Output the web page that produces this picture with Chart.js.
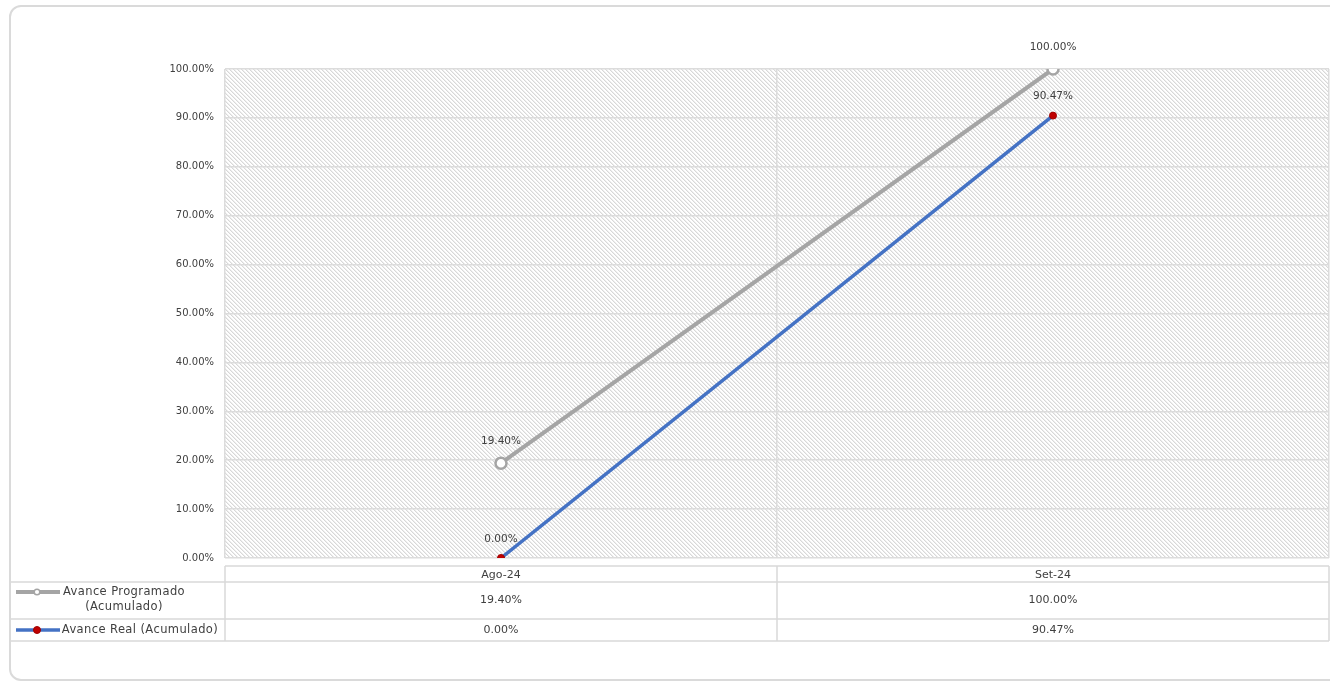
<!DOCTYPE html>
<html>
<head>
<meta charset="utf-8">
<script src="https://cdn.jsdelivr.net/npm/chart.js@4.4.1/dist/chart.umd.min.js"></script>
<style>
html,body{margin:0;padding:0;background:#fff;overflow:hidden;}
#wrap{position:relative;width:1330px;height:682px;}
#frame{position:absolute;left:9px;top:5px;width:1350px;height:676px;border:2px solid #dadada;border-radius:12px;box-sizing:border-box;}
canvas{position:absolute;left:0;top:0;}
</style>
</head>
<body>
<div id="wrap">
<div id="frame"></div>
<canvas id="c" width="1330" height="682"></canvas>
</div>
<script>
const categories = ['Ago-24', 'Set-24'];
const programado = [0.194, 1.0];
const real = [0.0, 0.9047];
const seriesNames = ['Avance Programado (Acumulado)', 'Avance Real (Acumulado)'];
const seriesTableLabels = [['Avance Programado', '(Acumulado)'], ['Avance Real (Acumulado)']];

const FONT = '"DejaVu Sans", sans-serif';
const TXT = '#404040';
const GRID = '#dcdcdc';
const fmt = v => (v * 100).toFixed(2) + '%';

function makeHatch() {
  const t = document.createElement('canvas');
  t.width = 4; t.height = 4;
  const g = t.getContext('2d');
  g.fillStyle = '#ffffff'; g.fillRect(0, 0, 4, 4);
  for (let y = 0; y < 4; y++) {
    g.fillStyle = '#d8d8d8'; g.fillRect(y, y, 1, 1);
    g.fillStyle = '#eeeeee'; g.fillRect((y + 1) % 4, y, 1, 1);
  }
  return t;
}

const hatchPlugin = {
  id: 'hatch',
  beforeDraw(chart) {
    const a = chart.chartArea, ctx = chart.ctx;
    ctx.save();
    ctx.fillStyle = ctx.createPattern(makeHatch(), 'repeat');
    ctx.fillRect(a.left, a.top, a.right - a.left, a.bottom - a.top);
    ctx.restore();
  }
};

const labelOffsets = [22, 19];
const labelPlugin = {
  id: 'dlabels',
  afterDatasetsDraw(chart) {
    const ctx = chart.ctx;
    ctx.save();
    ctx.font = '10.5px ' + FONT;
    ctx.fillStyle = TXT;
    ctx.textAlign = 'center';
    ctx.textBaseline = 'middle';
    chart.data.datasets.forEach((ds, di) => {
      chart.getDatasetMeta(di).data.forEach((pt, i) => {
        ctx.fillText(fmt(ds.data[i]), pt.x, pt.y - labelOffsets[di]);
      });
    });
    ctx.restore();
  }
};

const tablePlugin = {
  id: 'dtable',
  afterDraw(chart) {
    const ctx = chart.ctx, a = chart.chartArea, xs = chart.scales.x;
    const n = categories.length;
    const colW = (a.right - a.left) / n;
    const yH = a.bottom + 8, yR1 = a.bottom + 24, yR2 = a.bottom + 61, yEnd = a.bottom + 83;
    const xL = 11;
    ctx.save();
    ctx.strokeStyle = '#d9d9d9';
    ctx.lineWidth = 1.5;
    const line = (x1, y1, x2, y2) => { ctx.beginPath(); ctx.moveTo(x1, y1); ctx.lineTo(x2, y2); ctx.stroke(); };
    line(a.left, yH, a.right, yH);
    line(xL, yR1, a.right, yR1);
    line(xL, yR2, a.right, yR2);
    line(xL, yEnd, a.right, yEnd);
    for (let i = 0; i <= n; i++) line(a.left + colW * i, yH, a.left + colW * i, yEnd);
    ctx.font = '11px ' + FONT;
    ctx.fillStyle = TXT;
    ctx.textAlign = 'center';
    ctx.textBaseline = 'middle';
    categories.forEach((c, i) => {
      const x = xs.getPixelForValue(i);
      ctx.fillText(c, x, (yH + yR1) / 2 + 1);
      ctx.fillText(fmt(programado[i]), x, (yR1 + yR2) / 2);
      ctx.fillText(fmt(real[i]), x, (yR2 + yEnd) / 2);
    });
    // legend keys
    const ds = chart.data.datasets;
    const rows = [[yR1 + 10, yR1 + 25], [(yR2 + yEnd) / 2]];
    const textCx = [124, 140];
    ds.forEach((d, di) => {
      const ky = rows[di][0];
      ctx.strokeStyle = d.borderColor;
      ctx.lineWidth = d.borderWidth;
      line(16, ky, 60, ky);
      ctx.beginPath();
      ctx.arc(37, ky, di === 0 ? 2.8 : 3.5, 0, Math.PI * 2);
      ctx.fillStyle = d.pointBackgroundColor;
      ctx.fill();
      ctx.lineWidth = di === 0 ? 1.5 : 1;
      ctx.strokeStyle = d.pointBorderColor;
      ctx.stroke();
      ctx.fillStyle = TXT;
      ctx.font = '11.5px ' + FONT;
      ctx.letterSpacing = '0.4px';
      seriesTableLabels[di].forEach((t, k) => ctx.fillText(t, textCx[di], rows[di][k]));
      ctx.letterSpacing = '0px';
    });
    ctx.restore();
  }
};

new Chart(document.getElementById('c'), {
  type: 'line',
  data: {
    labels: categories,
    datasets: [
      { label: seriesNames[0], data: programado, borderColor: '#a5a5a5', borderWidth: 4,
        pointRadius: 5.5, pointBackgroundColor: '#ffffff', pointBorderColor: '#a5a5a5', pointBorderWidth: 2.5, tension: 0 },
      { label: seriesNames[1], data: real, borderColor: '#4472c4', borderWidth: 3.5,
        pointRadius: 3.5, pointBackgroundColor: '#c00000', pointBorderColor: '#a00000', pointBorderWidth: 1, tension: 0 }
    ]
  },
  options: {
    responsive: false,
    devicePixelRatio: 1,
    animation: false,
    events: [],
    layout: { autoPadding: false, padding: { left: 0, top: 69, right: 1, bottom: 124 } },
    plugins: { legend: { display: false }, tooltip: { enabled: false } },
    scales: {
      x: {
        type: 'category', offset: true,
        grid: { offset: true, color: GRID, lineWidth: 1.5, drawTicks: false },
        border: { display: false },
        ticks: { display: false },
        afterFit(s) { s.height = 0; }
      },
      y: {
        min: 0, max: 1,
        ticks: { stepSize: 0.1, callback: v => fmt(v), font: { family: FONT, size: 10 }, color: TXT, padding: 11 },
        grid: { color: GRID, lineWidth: 1.5, drawTicks: false },
        border: { display: false },
        afterFit(s) { s.width = 225; }
      }
    }
  },
  plugins: [hatchPlugin, labelPlugin, tablePlugin]
});
</script>
</body>
</html>
